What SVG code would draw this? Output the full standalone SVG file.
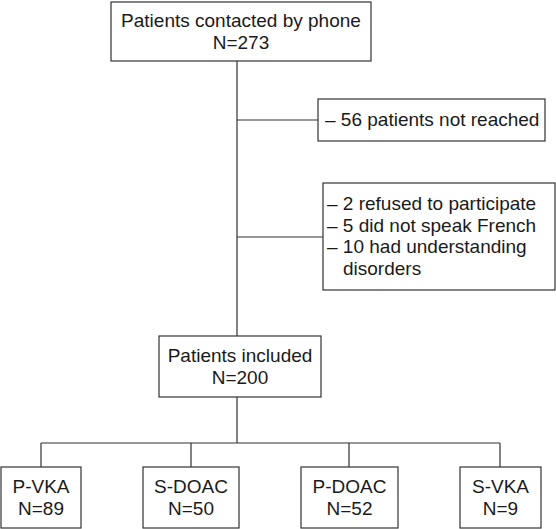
<svg xmlns="http://www.w3.org/2000/svg" width="556" height="529" viewBox="0 0 556 529">
<style>
.box{fill:#fff;stroke:#333;stroke-width:1.2}
.ln{fill:none;stroke:#333;stroke-width:1.2}
text{font-family:"Liberation Sans",Arial,sans-serif;font-size:19px;fill:#1a1a1a}
.c{text-anchor:middle}
</style>
<rect width="556" height="529" fill="#fff"/>
<g id="connectors">
<path class="ln" d="M237 61V336M237 120H318M237 237H323M237 397V443M41 443H500M41 443V467M191 443V467M349 443V467M500 443V467"/>
</g>
<g id="n-contacted">
<rect class="box" x="111" y="2" width="260" height="59"/>
<text class="c" x="241" y="27">Patients contacted by phone</text>
<text class="c" x="241" y="49">N=273</text>
</g>
<g id="n-notreached">
<rect class="box" x="318" y="99" width="227" height="42"/>
<text x="325" y="126">– 56 patients not reached</text>
</g>
<g id="n-excluded">
<rect class="box" x="323" y="183" width="232" height="107"/>
<text x="327" y="210">– 2 refused to participate</text>
<text x="327" y="232">– 5 did not speak French</text>
<text x="327" y="253">– 10 had understanding</text>
<text x="343" y="275">disorders</text>
</g>
<g id="n-included">
<rect class="box" x="159" y="336" width="162" height="61"/>
<text class="c" x="240" y="362">Patients included</text>
<text class="c" x="240" y="384">N=200</text>
</g>
<g id="n-pvka">
<rect class="box" x="1" y="467" width="80" height="61"/>
<text class="c" x="41" y="493">P-VKA</text>
<text class="c" x="41" y="515">N=89</text>
</g>
<g id="n-sdoac">
<rect class="box" x="143" y="467" width="96" height="61"/>
<text class="c" x="191" y="493">S-DOAC</text>
<text class="c" x="191" y="515">N=50</text>
</g>
<g id="n-pdoac">
<rect class="box" x="301" y="467" width="97" height="61"/>
<text class="c" x="349.5" y="493">P-DOAC</text>
<text class="c" x="349.5" y="515">N=52</text>
</g>
<g id="n-svka">
<rect class="box" x="460" y="467" width="81" height="61"/>
<text class="c" x="500.5" y="493">S-VKA</text>
<text class="c" x="500.5" y="515">N=9</text>
</g>
</svg>
